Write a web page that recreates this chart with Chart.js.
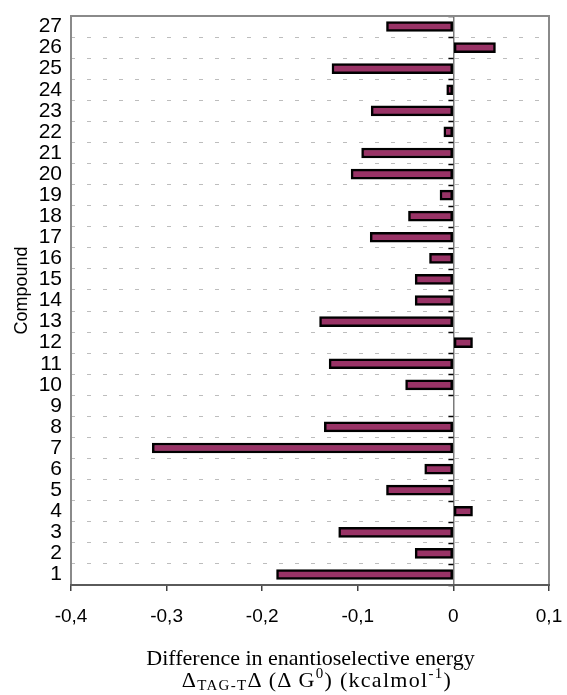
<!DOCTYPE html>
<html>
<head>
<meta charset="utf-8">
<script src="https://cdn.jsdelivr.net/npm/chart.js@4/dist/chart.umd.min.js"></script>
<style>
  html, body { margin: 0; padding: 0; background: #fff; }
  #wrap { position: relative; width: 567px; height: 695px; }
  canvas { display: block; }
  .xtitle {
    position: absolute; left: 0; width: 567px; text-align: center;
    font-family: "Liberation Serif", "Times New Roman", serif;
    font-size: 22px; line-height: 22px; color: #000; white-space: nowrap;
    box-sizing: border-box;
  }
  .xtitle sub, .xtitle sup { font-size: 15px; line-height: 0; }
  .xtitle sub { vertical-align: -3px; }
  .xtitle sup { vertical-align: 9px; }
  .units { letter-spacing: 1.3px; }
</style>
</head>
<body>
<div id="wrap">
  <canvas id="chart" width="567" height="695"></canvas>
  <div class="xtitle" style="top:647px; padding-left:54px;">Difference in enantioselective energy</div>
  <div class="xtitle units" style="top:669px; padding-left:67px;">&Delta;<sub>TAG-T</sub>&Delta;&thinsp;(&Delta;&thinsp;G<sup>0</sup>) (kcalmol<sup>-1</sup>)</div>
</div>
<script>
// Compound numbers (category axis, drawn bottom-to-top)
const compounds = ['1','2','3','4','5','6','7','8','9','10','11','12','13','14',
  '15','16','17','18','19','20','21','22','23','24','25','26','27'];

// Difference in enantioselective energy, kcal/mol
const energyDiff = [-0.185, -0.040, -0.120, 0.020, -0.070, -0.030, -0.315, -0.135, 0,
  -0.050, -0.130, 0.020, -0.140, -0.040, -0.040, -0.025, -0.087, -0.047, -0.014,
  -0.107, -0.096, -0.010, -0.086, -0.007, -0.127, 0.044, -0.070];

// Value axis range and step
const xMin = -0.4;
const xMax = 0.1;
const xStep = 0.1;

const yTitle = 'Compound';

const SANS = '"Liberation Sans", Arial, sans-serif';

// Plot frame, zero-line tick marks and the rotated axis title
const framePlugin = {
  id: 'frame',
  afterDatasetsDraw(chart) {
    const { ctx, chartArea: a, scales: { x, y } } = chart;
    const zx = x.getPixelForValue(0);
    ctx.save();
    // small tick marks on the zero line at category boundaries
    ctx.strokeStyle = '#000';
    ctx.lineWidth = 1.5;
    for (let i = 0; i <= compounds.length; i++) {
      const py = Math.round(y.getPixelForValue(i - 0.5)) + 0.5;
      ctx.beginPath();
      ctx.moveTo(zx - 5, py);
      ctx.lineTo(zx, py);
      ctx.stroke();
    }
    // frame
    ctx.strokeStyle = '#8a8a8a';
    ctx.lineWidth = 2;
    ctx.strokeRect(a.left, a.top, a.right - a.left, a.bottom - a.top);
    ctx.strokeStyle = '#5a5a5a';
    ctx.beginPath();
    ctx.moveTo(a.left - 1, a.bottom);
    ctx.lineTo(a.right + 1, a.bottom);
    ctx.stroke();
    // y axis title
    ctx.fillStyle = '#000';
    ctx.font = '18px ' + SANS;
    ctx.textAlign = 'center';
    ctx.textBaseline = 'middle';
    ctx.translate(22, (a.top + a.bottom) / 2 - 10);
    ctx.rotate(-Math.PI / 2);
    ctx.fillText(yTitle, 0, 0);
    ctx.restore();
  }
};

new Chart(document.getElementById('chart'), {
  type: 'bar',
  data: {
    labels: compounds,
    datasets: [{
      data: energyDiff,
      backgroundColor: '#993366',
      borderColor: '#000000',
      borderWidth: 2.5,
      borderSkipped: false,
      barThickness: 10
    }]
  },
  options: {
    indexAxis: 'y',
    responsive: false,
    animation: false,
    devicePixelRatio: 1,
    layout: { padding: { top: 16, right: 18, left: 0, bottom: 0 } },
    plugins: {
      legend: { display: false },
      tooltip: { enabled: false },
      title: { display: false }
    },
    scales: {
      x: {
        type: 'linear',
        min: xMin,
        max: xMax,
        afterFit(s) {
          s.height = 110;
          s.paddingLeft = 0;
          s.paddingRight = 0;
        },
        ticks: {
          stepSize: xStep,
          color: '#000',
          padding: 14,
          font: { family: SANS, size: 19 },
          callback(v) {
            if (Math.abs(v) < 1e-9) return '0';
            return v.toFixed(1).replace('.', ',');
          }
        },
        grid: {
          drawOnChartArea: true,
          drawTicks: true,
          tickLength: 6,
          tickColor: '#404040',
          lineWidth: 1.5,
          color(c) {
            return (c.tick && Math.abs(c.tick.value) < 1e-9) ? '#7a7a7a' : 'rgba(0,0,0,0)';
          }
        },
        border: { display: false }
      },
      y: {
        reverse: true,
        afterFit(s) {
          s.width = 71;
          s.paddingTop = 0;
          s.paddingBottom = 0;
        },
        ticks: {
          color: '#000',
          padding: 9,
          font: { family: SANS, size: 21 },
          autoSkip: false
        },
        grid: {
          offset: true,
          drawTicks: false,
          color: '#bdbdbd',
          lineWidth: 1
        },
        border: { display: false, dash: [4, 12] }
      }
    }
  },
  plugins: [framePlugin]
});
</script>
</body>
</html>
